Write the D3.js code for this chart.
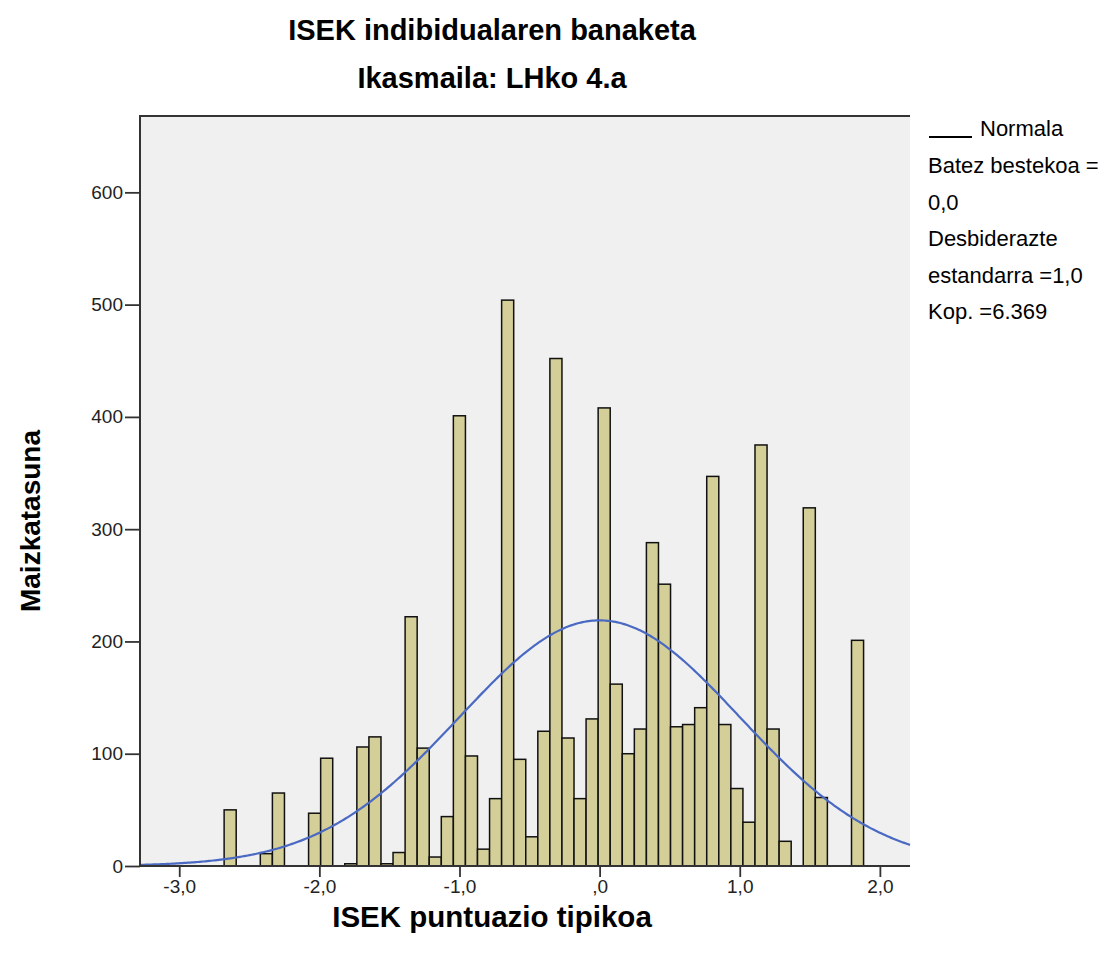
<!DOCTYPE html>
<html>
<head>
<meta charset="utf-8">
<script src="https://cdn.jsdelivr.net/npm/d3@7"></script>
<style>
  html, body { margin: 0; padding: 0; background: #ffffff; }
  svg { display: block; font-family: "Liberation Sans", Arial, sans-serif; }
</style>
</head>
<body>
<svg id="chart" width="1113" height="955"></svg>
<script>
// ---- Data ----
const title = "ISEK indibidualaren banaketa";
const subtitle = "Ikasmaila: LHko 4.a";
const xLabel = "ISEK puntuazio tipikoa";
const yLabel = "Maizkatasuna";

// histogram bins: first bin's lower edge and bin width (z-score units)
const binStart = -2.6796;
const binWidth = 0.0861;
// frequency of each consecutive bin
const counts = [
  50, 0, 0, 11, 65, 0, 0, 47, 96, 0,
  2, 106, 115, 2, 12, 222, 105, 8, 44, 401,
  98, 15, 60, 504, 95, 26, 120, 452, 114, 60,
  131, 408, 162, 100, 122, 288, 251, 124, 126, 141,
  347, 126, 69, 39, 375, 122, 22, 0, 319, 61,
  0, 0, 201
];

// normal curve parameters (from legend)
const normMean = 0.0;
const normSd = 1.0;
const normN = 6369;

const xTicks = [-3, -2, -1, 0, 1, 2];
const xTickLabels = ["-3,0", "-2,0", "-1,0", ",0", "1,0", "2,0"];
const yTicks = [0, 100, 200, 300, 400, 500, 600];

const legendLines = ["Batez bestekoa =", "0,0", "Desbiderazte", "estandarra =1,0", "Kop. =6.369"];
const legendTitle = "Normala";

// ---- Layout ----
const plot = { left: 140, right: 910, top: 116, bottom: 866 };
const xDomain = [-3.28, 2.215];
const yDomain = [0, 668];

const svg = d3.select("#chart");
const x = d3.scaleLinear().domain(xDomain).range([plot.left, plot.right]);
const y = d3.scaleLinear().domain(yDomain).range([plot.bottom, plot.top]);

// background
svg.append("rect")
  .attr("x", plot.left).attr("y", plot.top)
  .attr("width", plot.right - plot.left).attr("height", plot.bottom - plot.top)
  .attr("fill", "#f0f0f0");

// bars
const bins = counts.map((c, i) => ({ x0: binStart + i * binWidth, x1: binStart + (i + 1) * binWidth, c }));
svg.append("g").selectAll("rect")
  .data(bins.filter(d => d.c > 0))
  .join("rect")
  .attr("x", d => x(d.x0))
  .attr("width", d => x(d.x1) - x(d.x0))
  .attr("y", d => y(d.c))
  .attr("height", d => y(0) - y(d.c))
  .attr("fill", "#d4cf98")
  .attr("stroke", "#111")
  .attr("stroke-width", 1.5);

// normal curve
const pdf = v => Math.exp(-0.5 * Math.pow((v - normMean) / normSd, 2)) / (normSd * Math.sqrt(2 * Math.PI));
const curveX = d3.range(0, 401).map(i => xDomain[0] + (xDomain[1] - xDomain[0]) * i / 400);
svg.append("path")
  .datum(curveX)
  .attr("fill", "none")
  .attr("stroke", "#4a69c2")
  .attr("stroke-width", 2.2)
  .attr("d", d3.line().x(v => x(v)).y(v => y(normN * binWidth * pdf(v))));

// axes
const xAxis = d3.axisBottom(x).tickValues(xTicks).tickFormat((d, i) => xTickLabels[i]).tickSize(11).tickPadding(3);
const gx = svg.append("g").attr("transform", `translate(0,${plot.bottom})`).call(xAxis);
gx.select(".domain").remove();
gx.selectAll(".tick line").attr("stroke", "#333").attr("stroke-width", 1.8);
gx.selectAll(".tick text").attr("font-size", 19).attr("fill", "#222").attr("font-family", "Liberation Sans, Arial, sans-serif");

const yAxis = d3.axisLeft(y).tickValues(yTicks).tickFormat(d3.format("d")).tickSize(15).tickPadding(2);
const gy = svg.append("g").attr("transform", `translate(${plot.left},0)`).call(yAxis);
gy.select(".domain").remove();
gy.selectAll(".tick line").attr("stroke", "#333").attr("stroke-width", 1.8);
gy.selectAll(".tick text").attr("font-size", 19).attr("fill", "#222").attr("font-family", "Liberation Sans, Arial, sans-serif");

// frame: top, left, bottom
svg.append("path")
  .attr("d", `M${plot.right},${plot.top}H${plot.left}V${plot.bottom}H${plot.right}`)
  .attr("fill", "none").attr("stroke", "#333").attr("stroke-width", 2);

// titles
svg.append("text").attr("x", 492).attr("y", 40).attr("text-anchor", "middle")
  .attr("font-size", 29).attr("font-weight", "bold").attr("fill", "#000").text(title);
svg.append("text").attr("x", 492).attr("y", 88).attr("text-anchor", "middle")
  .attr("font-size", 29).attr("font-weight", "bold").attr("fill", "#000").text(subtitle);
svg.append("text").attr("x", 492).attr("y", 927).attr("text-anchor", "middle")
  .attr("font-size", 29.5).attr("font-weight", "bold").attr("fill", "#000").text(xLabel);
svg.append("text").attr("transform", "translate(40,521) rotate(-90)").attr("text-anchor", "middle")
  .attr("font-size", 28).attr("font-weight", "bold").attr("fill", "#000").text(yLabel);

// legend
const lg = svg.append("g");
lg.append("line").attr("x1", 929).attr("x2", 972).attr("y1", 137).attr("y2", 137)
  .attr("stroke", "#000").attr("stroke-width", 2);
lg.append("text").attr("x", 980).attr("y", 136).attr("font-size", 22).attr("fill", "#000").text(legendTitle);
lg.selectAll("text.row").data(legendLines).join("text").attr("class", "row")
  .attr("x", 928).attr("y", (d, i) => 173 + i * 36.6)
  .attr("font-size", 22).attr("fill", "#000").text(d => d);
</script>
</body>
</html>
